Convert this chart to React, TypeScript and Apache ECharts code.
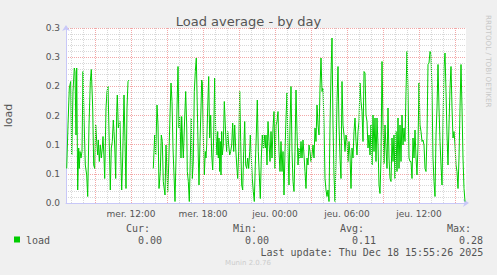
import React, { useEffect, useRef } from "react";
import * as echarts from "echarts";

// ---- texts ----
const TITLE = "Load average - by day";
const Y_NAME = "load";
const SERIES_NAME = "load";
const WATERMARK = "RRDTOOL / TOBI OETIKER";
const VERSION = "Munin 2.0.76";
const LAST_UPDATE = "Last update: Thu Dec 18 15:55:26 2025";
const STAT_LABELS = ["Cur:", "Min:", "Avg:", "Max:"];
const STAT_VALUES = ["0.00", "0.00", "0.11", "0.28"];

// ---- axes ----
const Y_MAX = 0.35;
const Y_SPLITS = 6;
const Y_TICK_LABELS = ["0.0", "0.1", "0.1", "0.2", "0.2", "0.3", "0.3"];
const START_MINUTE = 6 * 60 + 35; // mer. 06:35
const STEP_MINUTES = 5;
const STEP_COUNT = 400;
const DAY_NAMES = ["mer.", "jeu."];
const X_TICK_LABELS = ["mer. 12:00", "mer. 18:00", "jeu. 00:00", "jeu. 06:00", "jeu. 12:00"];

// ---- data: sample time (5-minute steps since start) and load ----
const SAMPLE_STEPS = [
  0.7, 2, 3.3, 4.7, 5.7, 7, 8.3, 9, 10, 10.7, 11.7, 12.7, 13.3, 14, 15, 16, 17, 18, 19.3, 20.7,
  21.7, 23, 24.3, 25.3, 26.7, 27.7, 28.7, 29.7, 30.7, 31.7, 32.3, 33.3, 34.3, 35.3, 36.3, 37, 38, 38.7, 40, 41,
  42, 43.3, 44.3, 45.3, 46.3, 47.3, 48, 48.7, 49.7, 50.7, 51.3, 52.3, 53.3, 54, 54.7, 55.7, 56.7, 58, 59, 60,
  61, 62, 63,
  75,
  87.3, 88.7, 89.7, 91, 92, 93, 94.3, 95.3, 96.3, 97.3,
  99, 100, 100.7, 101.7, 102.7, 104, 105, 106, 107, 108,
  109, 110, 111, 112, 113, 113.7, 114.3, 115, 115.7, 116.7,
  117.3, 118.7, 119.7, 120.7, 121.3, 122.3, 123.3, 124.3, 125.3, 126.3,
  127.3, 128.3, 129.3, 130.3, 131.3, 132.3, 133, 134, 135, 135.7,
  136.3, 137.3, 138.3, 139.3, 140, 140.7, 141.7, 142.7, 143.7, 144.7,
  145.7, 146.7, 147.7, 148.7, 149.7, 150.3, 151, 151.7, 152.3, 153,
  153.7, 154.3, 155, 155.7, 156.3, 157.3, 158.3, 159.3, 160, 160.7,
  161.7, 162.7, 163.7, 164.7, 165.7, 166.7, 167.7, 168.7, 169.7, 170.7,
  171.7, 172.7, 173.7, 174.7, 175.7, 176.7, 177.7, 178.7, 179.7, 180.7,
  181.7, 182.7, 183.7, 184.3, 185.3, 186.3, 187.3, 188.3, 189.3, 190.3,
  191.3, 192.3, 193.3, 194.3, 195.3, 196.3, 197.3, 198.3, 199.3,
  200, 201, 202, 203, 204, 205, 206, 207, 208, 209, 210, 211, 212, 213, 214, 215, 216, 217, 218, 219,
  220, 221, 222, 223, 224, 225, 226, 227, 228, 229, 230, 231, 232, 233, 234, 235, 236, 237, 238, 239,
  240, 241, 242, 243, 244, 245, 246, 247, 248, 249, 250, 251, 252, 253, 254, 255, 256, 257, 258, 259,
  260, 261, 262, 263, 264, 265, 266, 267, 268, 269, 270, 271, 272, 273, 274, 275, 276, 277, 278, 279,
  280, 281, 282, 283, 284, 285, 286, 287, 288, 289, 290, 291, 292, 293, 294, 295, 296, 297, 298, 299,
  300, 301, 302, 303, 304, 305, 306, 307, 308, 309, 310, 311, 312, 313, 314, 315, 316, 317, 318, 319,
  320, 321, 322, 323, 324, 325, 326, 327, 328, 329, 330, 331, 332, 333, 334, 335, 336, 337, 338, 339,
  340, 341, 342, 343, 344, 345, 346, 347, 348, 349, 350, 351, 352, 353, 354, 355, 356, 357, 358, 359,
  360, 361, 362, 363, 364, 365, 366, 367, 368, 369, 370, 371, 372, 373, 374, 375, 376, 377, 378, 379,
  380, 381, 382, 383, 384, 385, 386, 387, 388, 389, 390, 391, 392, 393, 394, 395, 396, 397, 398, 399,
];

const LOAD: (number | null)[] = [
  0.069, 0.156, 0.230, 0.243, 0.096, 0.223, 0.270, 0.263, 0.136, 0.270,
  0.026, 0.110, 0.069, 0.103, 0.090, 0.103, 0.263, 0.170, 0.076, 0.056,
  0.013, 0.156, 0.243, 0.267, 0.190, 0.076, 0.069, 0.156, 0.123, 0.096,
  0.126, 0.083, 0.116, 0.090, 0.110, 0.133, 0.090, 0.049, 0.190, 0.223,
  0.233, 0.116, 0.026, 0.110, 0.123, 0.166, 0.143, 0.116, 0.049, 0.183,
  0.216, 0.150, 0.160, 0.163, 0.103, 0.026, 0.090, 0.216, 0.123, 0.029,
  0.190, 0.243, 0.246,
  null,
  0.069, 0.136, 0.096, 0.196, 0.156, 0.029, 0.063, 0.136, 0.123, 0.043,
  0.016, 0.116, 0.116, 0.023, 0.076, 0.176, 0.240, 0.203, 0.110, 0.056,
  0.003, 0.090, 0.190, 0.273, 0.150, 0.173, 0.143, 0.090, 0.173, 0.116,
  0.090, 0.170, 0.223, 0.156, 0.063, 0.043, 0.003, 0.090, 0.170, 0.049,
  0.083, 0.223, 0.263, 0.290, 0.190, 0.090, 0.036, 0.123, 0.190, 0.246,
  0.240, 0.136, 0.056, 0.103, 0.090, 0.116, 0.190, 0.253, 0.130, 0.176,
  0.096, 0.066, 0.136, 0.250, 0.143, 0.123, 0.096, 0.143, 0.090, 0.130,
  0.063, 0.123, 0.056, 0.143, 0.096, 0.116, 0.203, 0.156, 0.123, 0.103,
  0.143, 0.116, 0.096, 0.103, 0.116, 0.160, 0.103, 0.156, 0.110, 0.076,
  0.049, 0.103, 0.223, 0.123, 0.036, 0.026, 0.103, 0.163, 0.076, 0.069,
  0.090, 0.069, 0.103, 0.136, 0.090, 0.049, 0.023, 0.003, 0.076, 0.136,
  0.206, 0.103, 0.056, 0.009, 0.090, 0.136, 0.110, 0.136, 0.110,
  0.136, 0.076, 0.163, 0.123, 0.083, 0.143, 0.090, 0.150, 0.183, 0.069,
  0.156, 0.163, 0.183, 0.103, 0.063, 0.123, 0.063, 0.103, 0.016, 0.103,
  0.170, 0.220, 0.103, 0.036, 0.156, 0.233, 0.103, 0.043, 0.023, 0.103,
  0.226, 0.143, 0.076, 0.110, 0.090, 0.123, 0.090, 0.126, 0.096, 0.063,
  0.029, 0.090, 0.076, 0.116, 0.103, 0.083, 0.096, 0.116, 0.090, 0.150,
  0.123, 0.196, 0.156, 0.136, 0.230, 0.290, 0.223, 0.230, 0.156, 0.049,
  0.026, 0.013, 0.026, 0.003, 0.156, 0.257, 0.330, 0.156, 0.056, 0.003,
  0.090, 0.203, 0.273, 0.156, 0.090, 0.049, 0.243, 0.156, 0.136, 0.103,
  0.136, 0.123, 0.083, 0.123, 0.096, 0.029, 0.110, 0.090, 0.143, 0.170,
  0.123, 0.096, 0.143, 0.163, 0.240, 0.203, 0.183, 0.123, 0.263, 0.260,
  0.176, 0.163, 0.110, 0.136, 0.096, 0.156, 0.076, 0.176, 0.103, 0.170,
  0.083, 0.170, 0.116, 0.036, 0.019, 0.090, 0.283, 0.156, 0.079, 0.156,
  0.110, 0.069, 0.190, 0.090, 0.049, 0.043, 0.130, 0.083, 0.136, 0.049,
  0.143, 0.063, 0.170, 0.069, 0.156, 0.083, 0.176, 0.116, 0.150, 0.123,
  0.223, 0.303, 0.223, 0.090, 0.083, 0.083, 0.049, 0.130, 0.090, 0.146,
  0.090, 0.056, 0.116, 0.240, 0.156, 0.143, 0.123, 0.126, 0.116, 0.069,
  0.063, 0.136, 0.277, 0.280, 0.303, 0.297, 0.223, 0.090, 0.043, 0.013,
  0.136, 0.190, 0.277, 0.190, 0.123, 0.076, 0.036, 0.156, 0.270, 0.300,
  0.223, 0.136, 0.076, 0.156, 0.230, 0.273, 0.190, 0.130, 0.143, 0.116,
  0.076, 0.063, 0.029, 0.090, 0.190, 0.277, 0.190, 0.090, 0.029, 0.003,
];

const pad = (n: number) => (n < 10 ? "0" + n : "" + n);
const minuteOf = (i: number) => START_MINUTE + i * STEP_MINUTES;
const CATEGORIES = Array.from({ length: STEP_COUNT + 1 }, (_, i) => {
  const m = minuteOf(i);
  const d = Math.floor(m / 1440);
  const hh = Math.floor((m % 1440) / 60);
  const mm = m % 60;
  return `${DAY_NAMES[d]} ${pad(hh)}:${pad(mm)}`;
});
const stepIndexes = CATEGORIES.map((_, i) => i);
const HOUR_STEPS = stepIndexes.filter((i) => minuteOf(i) % 60 === 0 && minuteOf(i) % 180 !== 0);
const THREE_HOUR_STEPS = stepIndexes.filter((i) => minuteOf(i) % 180 === 0);

const AXIS_COLOR = "#C8C8F8";
const MAJOR_GRID = "#F2A8A8";
const MINOR_GRID = "#D8D8D8";
const TEXT_COLOR = "#555555";
const LINE_COLOR = "#00CC00";
const SANS = "'DejaVu Sans', sans-serif";
const MONO = "'DejaVu Sans Mono', monospace";

export default function App() {
  const ref = useRef<HTMLDivElement>(null);

  useEffect(() => {
    if (!ref.current) return;
    const chart = echarts.init(ref.current, undefined, { renderer: "svg" });
    const yInterval = Y_MAX / Y_SPLITS;
    const data = SAMPLE_STEPS.map((s, i) => [s, LOAD[i] === null ? "-" : LOAD[i]]);

    const statCols = [126, 233, 340, 447];
    const graphics: any[] = [
      { type: "rect", shape: { x: 14, y: 236.5, width: 6, height: 6 }, style: { fill: LINE_COLOR } },
      { type: "text", x: 26, y: 240, style: { text: SERIES_NAME, font: `10px ${MONO}`, fill: TEXT_COLOR, align: "left", verticalAlign: "middle" } },
      { type: "text", x: 260.5, y: 252, style: { text: LAST_UPDATE, font: `10px ${MONO}`, fill: TEXT_COLOR, align: "left", verticalAlign: "middle" } },
      { type: "text", x: 248, y: 263, style: { text: VERSION, font: `7px ${SANS}`, fill: "#CCCCCC", align: "center", verticalAlign: "middle" } },
      { type: "text", x: 488, y: 15, rotation: -Math.PI / 2, style: { text: WATERMARK, font: `7.2px ${SANS}`, fill: "#C8C8C8", align: "left", verticalAlign: "middle" } },
    ];
    STAT_LABELS.forEach((lab, k) => {
      graphics.push({ type: "text", x: statCols[k], y: 228, style: { text: lab, font: `10px ${MONO}`, fill: TEXT_COLOR, align: "left", verticalAlign: "middle" } });
      graphics.push({ type: "text", x: statCols[k] + 12, y: 240, style: { text: STAT_VALUES[k], font: `10px ${MONO}`, fill: TEXT_COLOR, align: "left", verticalAlign: "middle" } });
    });

    const gridLines = (steps: number[], color: string, z: number) => ({
      type: "line",
      xAxisIndex: 1,
      data: [[0, "-"]],
      showSymbol: false,
      silent: true,
      z,
      markLine: {
        silent: true,
        symbol: ["none", "none"],
        label: { show: false },
        emphasis: { disabled: true },
        lineStyle: { color, type: [1, 1], width: 1 },
        data: steps.map((s) => ({ xAxis: s })),
      },
    });

    chart.setOption({
      animation: false,
      backgroundColor: "#F0F0F0",
      title: {
        text: TITLE,
        left: "center",
        top: 10,
        textStyle: { fontFamily: SANS, fontSize: 13, fontWeight: "normal", color: TEXT_COLOR },
      },
      grid: {
        left: 66,
        top: 28,
        width: 400,
        height: 175,
        containLabel: false,
        outerBoundsMode: "none",
        show: true,
        backgroundColor: "#FFFFFF",
        borderWidth: 0,
      },
      xAxis: [
        {
          type: "category",
          data: CATEGORIES,
          boundaryGap: false,
          position: "bottom",
          axisLine: { show: true, lineStyle: { color: AXIS_COLOR, width: 1 }, symbol: ["none", "arrow"], symbolSize: [6, 6], symbolOffset: [0, 3] },
          axisTick: { show: false },
          axisLabel: {
            interval: 0,
            formatter: (v: string) => (X_TICK_LABELS.includes(v) ? v : ""),
            fontFamily: SANS,
            fontSize: 9,
            color: TEXT_COLOR,
            margin: 6,
          },
          splitLine: { show: false },
        },
        { type: "value", min: 0, max: STEP_COUNT, show: false },
      ],
      yAxis: {
        type: "value",
        min: 0,
        max: Y_MAX,
        interval: yInterval,
        name: Y_NAME,
        nameLocation: "middle",
        nameGap: 52,
        nameTextStyle: { fontFamily: SANS, fontSize: 11, color: TEXT_COLOR },
        axisLine: { show: true, lineStyle: { color: AXIS_COLOR, width: 1 }, symbol: ["none", "arrow"], symbolSize: [6, 6], symbolOffset: [0, 3] },
        axisTick: { show: false },
        axisLabel: {
          formatter: (v: number) => Y_TICK_LABELS[Math.round(v / yInterval)] ?? "",
          fontFamily: SANS,
          fontSize: 9,
          color: TEXT_COLOR,
          margin: 6,
        },
        splitLine: { show: true, lineStyle: { color: MAJOR_GRID, type: [1, 1], width: 1 } },
        minorTick: { show: false, splitNumber: 5 },
        minorSplitLine: { show: true, lineStyle: { color: MINOR_GRID, type: [1, 1], width: 1 } },
      },
      series: [
        gridLines(HOUR_STEPS, MINOR_GRID, 0),
        gridLines(THREE_HOUR_STEPS, MAJOR_GRID, 1),
        {
          type: "line",
          name: SERIES_NAME,
          xAxisIndex: 1,
          z: 3,
          data,
          showSymbol: false,
          symbol: "none",
          connectNulls: false,
          lineStyle: { color: LINE_COLOR, width: 1 },
          itemStyle: { color: LINE_COLOR },
          silent: true,
        },
      ],
      graphic: graphics,
    });
    return () => chart.dispose();
  }, []);

  return <div ref={ref} style={{ position: "absolute", left: 0, top: 0, width: 497, height: 275 }} />;
}
